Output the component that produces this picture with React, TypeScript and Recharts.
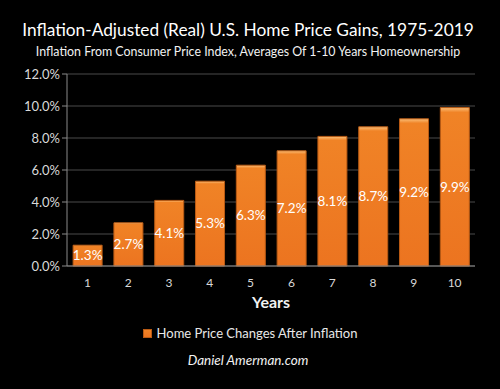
import { BarChart, Bar, XAxis, YAxis, CartesianGrid, LabelList } from 'recharts';

const years = ['1', '2', '3', '4', '5', '6', '7', '8', '9', '10'];
const realGains = [1.3, 2.7, 4.1, 5.3, 6.3, 7.2, 8.1, 8.7, 9.2, 9.9];
const yTicks = [0, 2, 4, 6, 8, 10, 12];

const data = years.map((year, i) => ({ year, value: realGains[i] }));

const font = 'Lato, "Open Sans", sans-serif';

export default function App() {
  return (
    <div style={{ position: 'absolute', left: 0, top: 0, width: 500, height: 389, background: '#000', fontFamily: font }}>
      <div style={{ position: 'absolute', top: 19, width: 496, textAlign: 'center', color: '#fff', fontSize: 17.3, whiteSpace: 'nowrap' }}>
        Inflation-Adjusted (Real) U.S. Home Price Gains, 1975-2019
      </div>
      <div style={{ position: 'absolute', top: 44, width: 496, textAlign: 'center', color: '#f2f2f2', fontSize: 12.4, whiteSpace: 'nowrap' }}>
        Inflation From Consumer Price Index, Averages Of 1-10 Years Homeownership
      </div>
      <BarChart
        width={500}
        height={389}
        data={data}
        margin={{ top: 74, right: 25, left: 0, bottom: 103 }}
        barCategoryGap="15%"
      >
        <defs>
          <linearGradient id="barFill" x1="0" y1="0" x2="0" y2="1">
            <stop offset="0%" stopColor="#fbc07a" />
            <stop offset="3%" stopColor="#f08326" />
            <stop offset="100%" stopColor="#ec7420" />
          </linearGradient>
        </defs>
        <CartesianGrid vertical={false} stroke="#4a4a4a" />
        <XAxis
          dataKey="year"
          height={20}
          axisLine={{ stroke: '#8a8a8a' }}
          tickLine={false}
          tick={{ fill: '#d9d9d9', fontSize: 12, fontFamily: font }}
          tickMargin={6}
          label={{ value: 'Years', position: 'insideBottom', offset: -22, fill: '#f2f2f2', fontSize: 16, fontWeight: 'bold', fontFamily: font }}
        />
        <YAxis
          width={67}
          domain={[0, 12]}
          ticks={yTicks}
          axisLine={{ stroke: '#8a8a8a' }}
          tickLine={{ stroke: '#8a8a8a' }}
          tickSize={5}
          tick={{ fill: '#d9d9d9', fontSize: 13, fontFamily: font }}
          tickFormatter={(v: number) => v.toFixed(1) + '%'}
        />
        <Bar dataKey="value" name="Home Price Changes After Inflation" fill="url(#barFill)" stroke="#b85a14" strokeWidth={1} isAnimationActive={false}>
          <LabelList dataKey="value" position="center" fill="#fff" fontSize={13.5} fontFamily={font} formatter={(v: number) => v.toFixed(1) + '%'} />
        </Bar>
      </BarChart>
      <div style={{ position: 'absolute', top: 325, width: 500, display: 'flex', alignItems: 'center', justifyContent: 'center', fontSize: 13, color: '#e8e8e8', whiteSpace: 'nowrap' }}>
        <svg width={9} height={9} style={{ marginRight: 5 }}>
          <rect x={0.5} y={0.5} width={8} height={8} fill="url(#barFill)" stroke="#b85a14" />
        </svg>
        Home Price Changes After Inflation
      </div>
      <div style={{ position: 'absolute', top: 352, width: 496, textAlign: 'center', color: '#f2f2f2', fontSize: 13.5, fontStyle: 'italic' }}>
        Daniel Amerman.com
      </div>
    </div>
  );
}
